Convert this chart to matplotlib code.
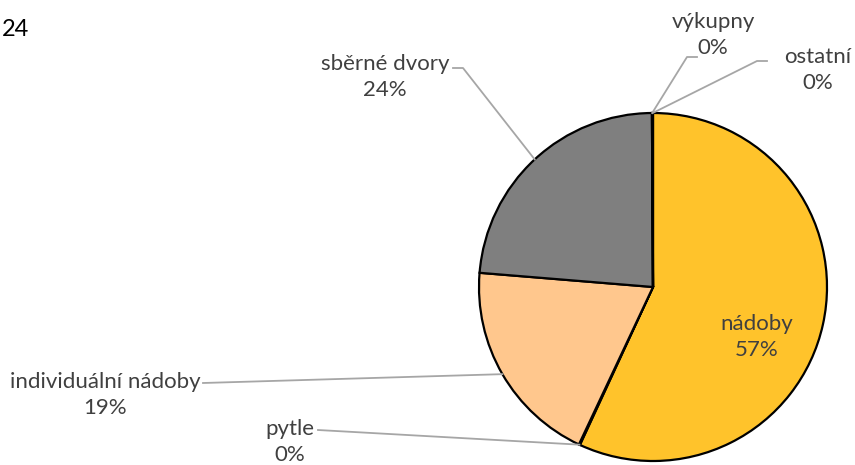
import matplotlib.pyplot as plt
import numpy as np

labels = ["nádoby", "pytle", "individuální nádoby", "sběrné dvory", "výkupny", "ostatní"]
values = [56.9, 0.1, 19.3, 23.6, 0.05, 0.05]
pct_text = ["57%", "0%", "19%", "24%", "0%", "0%"]
colors = ["#FFC32B", "#FFC000", "#FFC78D", "#7F7F7F", "#A5A5A5", "#5B9BD5"]

W, H = 855, 465
# label centers (pixels, from top-left) and leader line start points
label_pos = [(757, 337), (290, 442), (105, 395), (385, 77), (713, 35), (818, 70)]
line_start = [None, (318, 430), (203, 383), (453, 68), (697, 57), (767, 61)]

plt.rcParams['font.family'] = ['Lato', 'DejaVu Sans']
fig = plt.figure(figsize=(W / 100, H / 100), dpi=100)
ax = fig.add_axes([0, 0, 1, 1])
ax.set_xlim(0, W)
ax.set_ylim(0, H)
ax.set_aspect('equal')
ax.axis('off')

cx, cy, r = 653, H - 287, 174
wedges, _ = ax.pie(values, colors=colors, startangle=90, counterclock=False,
                   center=(cx, cy), radius=r, frame=True,
                   wedgeprops=dict(edgecolor='black', linewidth=1.6))
ax.set_xlim(0, W)
ax.set_ylim(0, H)
ax.axis('off')

txt_col = "#404040"
for i, w in enumerate(wedges):
    lx, ly = label_pos[i]
    ax.text(lx, H - ly, labels[i] + "\n" + pct_text[i], ha='center', va='center',
            fontsize=16, color=txt_col, linespacing=1.4, zorder=5)
    if line_start[i] is not None:
        mid = np.deg2rad((w.theta1 + w.theta2) / 2)
        ex, ey = cx + r * np.cos(mid), cy + r * np.sin(mid)
        sx, sy = line_start[i]
        hx = sx + (10 if sx < ex else -10)
        if i in (1, 2):
            ax.plot([sx, ex], [H - sy, ey], color="#A6A6A6", lw=1.3, zorder=1)
        else:
            ax.plot([sx, hx, ex], [H - sy, H - sy, ey], color="#A6A6A6", lw=1.3, zorder=1)

fig.text(2 / W, 1 - 30 / H, "24", ha='left', va='center', fontsize=17, color='black')

fig.savefig("out.png", dpi=100)
